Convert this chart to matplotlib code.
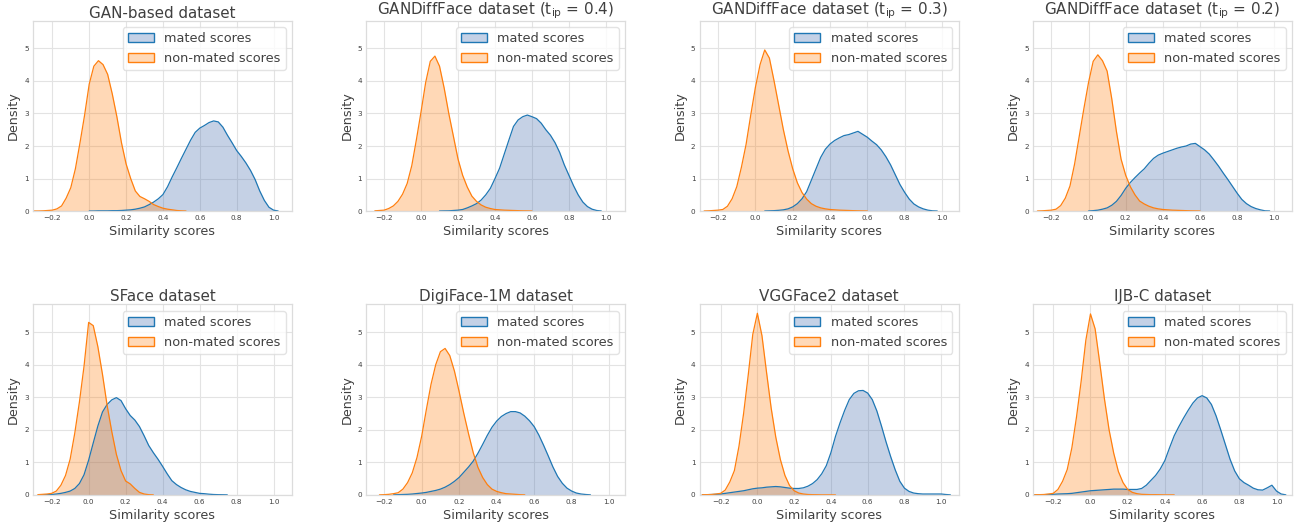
import numpy as np
import matplotlib
matplotlib.use('Agg')
import matplotlib.pyplot as plt
from matplotlib.patches import Patch

# Similarity score grid (x values for every density curve)
scores = [-0.3, -0.275, -0.25, -0.225, -0.2, -0.175, -0.15, -0.125, -0.1, -0.075, -0.05,
          -0.025, 0.0, 0.025, 0.05, 0.075, 0.1, 0.125, 0.15, 0.175, 0.2, 0.225,
          0.25, 0.275, 0.3, 0.325, 0.35, 0.375, 0.4, 0.425, 0.45, 0.475, 0.5,
          0.525, 0.55, 0.575, 0.6, 0.625, 0.65, 0.675, 0.7, 0.725, 0.75, 0.775,
          0.8, 0.825, 0.85, 0.875, 0.9, 0.925, 0.95, 0.975, 1.0, 1.025, 1.05]

titles = ['GAN-based dataset',
          'GANDiffFace dataset (t$_{\\mathrm{ip}}$ = 0.4)',
          'GANDiffFace dataset (t$_{\\mathrm{ip}}$ = 0.3)',
          'GANDiffFace dataset (t$_{\\mathrm{ip}}$ = 0.2)',
          'SFace dataset',
          'DigiFace-1M dataset',
          'VGGFace2 dataset',
          'IJB-C dataset']

# Density values (mated / non-mated), one list per panel
gan_mated = [0, 0, 0, 0, 0, 0, 0, 0, 0, 0, 0,
             0, 0.005, 0.005, 0.01, 0.01, 0.01, 0.015, 0.015, 0.02, 0.03, 0.04,
             0.06, 0.09, 0.13, 0.2, 0.28, 0.38, 0.51, 0.75, 1.05, 1.33, 1.62,
             1.9, 2.18, 2.42, 2.55, 2.63, 2.72, 2.77, 2.74, 2.58, 2.33, 2.1,
             1.86, 1.68, 1.48, 1.25, 0.97, 0.62, 0.33, 0.12, 0.03, 0.005, 0]
gan_nonmated = [0.005, 0.005, 0.01, 0.02, 0.03, 0.07, 0.16, 0.4, 0.72, 1.3, 2.1,
                2.95, 3.9, 4.45, 4.62, 4.5, 4.2, 3.6, 2.9, 2.1, 1.45, 1.0,
                0.62, 0.45, 0.38, 0.3, 0.2, 0.14, 0.09, 0.06, 0.04, 0.02, 0.01,
                0.005, 0, 0, 0, 0, 0, 0, 0, 0, 0, 0,
                0, 0, 0, 0, 0, 0, 0, 0, 0, 0, 0]

gdf04_mated = [0, 0, 0, 0, 0, 0, 0, 0, 0, 0, 0,
               0, 0, 0, 0, 0, 0.005, 0.008, 0.01, 0.02, 0.03, 0.05,
               0.1, 0.16, 0.23, 0.34, 0.5, 0.7, 1.0, 1.32, 1.75, 2.18, 2.6,
               2.8, 2.9, 2.95, 2.9, 2.84, 2.7, 2.5, 2.33, 2.1, 1.8, 1.42,
               1.1, 0.78, 0.5, 0.28, 0.14, 0.06, 0.02, 0.005, 0, 0, 0]
gdf04_nonmated = [0, 0, 0.01, 0.02, 0.03, 0.08, 0.16, 0.3, 0.52, 0.85, 1.4,
                  2.2, 3.05, 3.95, 4.6, 4.76, 4.45, 3.78, 3.0, 2.3, 1.6, 1.1,
                  0.74, 0.46, 0.3, 0.19, 0.12, 0.08, 0.05, 0.04, 0.03, 0.025, 0.02,
                  0.015, 0.01, 0.008, 0.005, 0, 0, 0, 0, 0, 0, 0,
                  0, 0, 0, 0, 0, 0, 0, 0, 0, 0, 0]

gdf03_mated = [0, 0, 0, 0, 0, 0, 0, 0, 0, 0, 0,
               0, 0, 0, 0.005, 0.01, 0.015, 0.025, 0.04, 0.07, 0.13, 0.23,
               0.38, 0.6, 0.95, 1.3, 1.65, 1.9, 2.06, 2.17, 2.25, 2.32, 2.35,
               2.4, 2.45, 2.36, 2.27, 2.15, 2.04, 1.88, 1.67, 1.42, 1.12, 0.82,
               0.58, 0.37, 0.22, 0.13, 0.07, 0.03, 0.01, 0.005, 0, 0, 0]
gdf03_nonmated = [0, 0.005, 0.01, 0.02, 0.03, 0.05, 0.15, 0.38, 0.75, 1.35, 2.05,
                  2.95, 3.8, 4.5, 4.95, 4.7, 4.0, 3.25, 2.5, 1.85, 1.3, 0.87,
                  0.57, 0.37, 0.23, 0.15, 0.1, 0.07, 0.05, 0.04, 0.03, 0.025, 0.02,
                  0.015, 0.01, 0.008, 0.005, 0, 0, 0, 0, 0, 0, 0,
                  0, 0, 0, 0, 0, 0, 0, 0, 0, 0, 0]

gdf02_mated = [0, 0, 0, 0, 0, 0, 0, 0, 0, 0, 0,
               0, 0.005, 0.015, 0.03, 0.06, 0.1, 0.18, 0.3, 0.48, 0.7, 0.88,
               1.03, 1.17, 1.3, 1.47, 1.62, 1.72, 1.78, 1.83, 1.88, 1.93, 1.97,
               2.0, 2.06, 2.08, 1.98, 1.88, 1.75, 1.57, 1.38, 1.17, 0.97, 0.76,
               0.55, 0.36, 0.23, 0.14, 0.08, 0.04, 0.01, 0.005, 0, 0, 0]
gdf02_nonmated = [0, 0.005, 0.01, 0.02, 0.03, 0.06, 0.17, 0.4, 0.77, 1.45, 2.3,
                  3.15, 3.95, 4.6, 4.8, 4.62, 4.3, 3.45, 2.45, 1.6, 1.1, 0.75,
                  0.5, 0.31, 0.22, 0.15, 0.1, 0.07, 0.05, 0.04, 0.03, 0.025, 0.02,
                  0.015, 0.01, 0.008, 0.005, 0, 0, 0, 0, 0, 0, 0,
                  0, 0, 0, 0, 0, 0, 0, 0, 0, 0, 0]

sface_mated = [0, 0, 0.005, 0.01, 0.015, 0.03, 0.05, 0.08, 0.12, 0.2, 0.35,
               0.62, 1.07, 1.6, 2.12, 2.55, 2.78, 2.92, 2.99, 2.9, 2.65, 2.44,
               2.3, 2.1, 1.82, 1.52, 1.3, 1.1, 0.88, 0.65, 0.44, 0.32, 0.23,
               0.16, 0.11, 0.08, 0.05, 0.04, 0.025, 0.015, 0.01, 0.008, 0.005, 0,
               0, 0, 0, 0, 0, 0, 0, 0, 0, 0, 0]
sface_nonmated = [0, 0.01, 0.02, 0.03, 0.05, 0.12, 0.3, 0.6, 1.1, 1.9, 2.85,
                  3.95, 5.3, 5.2, 4.55, 3.7, 2.75, 1.95, 1.25, 0.75, 0.43, 0.34,
                  0.2, 0.08, 0.03, 0.01, 0.005, 0, 0, 0, 0, 0, 0,
                  0, 0, 0, 0, 0, 0, 0, 0, 0, 0, 0,
                  0, 0, 0, 0, 0, 0, 0, 0, 0, 0, 0]

digi_mated = [0, 0, 0, 0, 0, 0, 0.005, 0.01, 0.015, 0.02, 0.03,
              0.045, 0.06, 0.08, 0.11, 0.14, 0.18, 0.24, 0.32, 0.42, 0.54, 0.7,
              0.86, 1.04, 1.28, 1.55, 1.83, 2.08, 2.27, 2.41, 2.5, 2.56, 2.56,
              2.52, 2.42, 2.28, 2.1, 1.84, 1.53, 1.2, 0.86, 0.57, 0.36, 0.21,
              0.12, 0.06, 0.03, 0.015, 0.005, 0, 0, 0, 0, 0, 0]
digi_nonmated = [0, 0, 0, 0.005, 0.01, 0.02, 0.04, 0.07, 0.18, 0.38, 0.68,
                 1.15, 1.8, 2.62, 3.4, 4.0, 4.4, 4.5, 4.28, 3.8, 3.17, 2.5,
                 1.88, 1.3, 0.85, 0.54, 0.32, 0.18, 0.11, 0.07, 0.04, 0.03, 0.02,
                 0.01, 0.005, 0, 0, 0, 0, 0, 0, 0, 0, 0,
                 0, 0, 0, 0, 0, 0, 0, 0, 0, 0, 0]

vgg_mated = [0.005, 0.01, 0.015, 0.02, 0.03, 0.05, 0.07, 0.09, 0.11, 0.13, 0.16,
             0.19, 0.21, 0.22, 0.24, 0.25, 0.26, 0.25, 0.23, 0.21, 0.2, 0.2,
             0.22, 0.27, 0.35, 0.47, 0.65, 0.9, 1.3, 1.8, 2.22, 2.6, 2.93,
             3.12, 3.2, 3.21, 3.13, 2.93, 2.58, 2.12, 1.63, 1.18, 0.77, 0.42,
             0.21, 0.11, 0.06, 0.04, 0.03, 0.03, 0.03, 0.03, 0.03, 0.015, 0.005]
vgg_nonmated = [0.01, 0.01, 0.015, 0.03, 0.05, 0.15, 0.4, 0.75, 1.5, 2.5, 3.67,
                4.93, 5.58, 4.89, 3.76, 2.67, 1.78, 1.09, 0.6, 0.29, 0.13, 0.06,
                0.03, 0.015, 0.01, 0.008, 0.005, 0.005, 0.005, 0.003, 0, 0, 0,
                0, 0, 0, 0, 0, 0, 0, 0, 0, 0, 0,
                0, 0, 0, 0, 0, 0, 0, 0, 0, 0, 0]

ijbc_mated = [0.005, 0.008, 0.01, 0.015, 0.02, 0.03, 0.035, 0.04, 0.05, 0.07, 0.09,
              0.11, 0.13, 0.14, 0.15, 0.16, 0.17, 0.18, 0.18, 0.18, 0.17, 0.17,
              0.17, 0.2, 0.3, 0.45, 0.6, 0.8, 1.06, 1.45, 1.82, 2.1, 2.36,
              2.6, 2.82, 2.98, 3.05, 2.98, 2.78, 2.43, 2.0, 1.55, 1.1, 0.74,
              0.5, 0.38, 0.3, 0.21, 0.16, 0.15, 0.22, 0.3, 0.12, 0.03, 0.005]
ijbc_nonmated = [0.01, 0.01, 0.015, 0.03, 0.05, 0.17, 0.42, 0.78, 1.45, 2.4, 3.5,
                 4.75, 5.56, 5.1, 4.05, 2.95, 2.0, 1.28, 0.72, 0.38, 0.17, 0.08,
                 0.04, 0.02, 0.015, 0.01, 0.01, 0.008, 0.005, 0.005, 0.005, 0, 0,
                 0, 0, 0, 0, 0, 0, 0, 0, 0, 0, 0,
                 0, 0, 0, 0, 0, 0, 0, 0, 0, 0, 0]

mated = [gan_mated, gdf04_mated, gdf03_mated, gdf02_mated,
         sface_mated, digi_mated, vgg_mated, ijbc_mated]
nonmated = [gan_nonmated, gdf04_nonmated, gdf03_nonmated, gdf02_nonmated,
            sface_nonmated, digi_nonmated, vgg_nonmated, ijbc_nonmated]

x_limits = [(-0.305, 1.10), (-0.296, 1.105), (-0.299, 1.09), (-0.299, 1.095),
            (-0.301, 1.10), (-0.295, 1.086), (-0.314, 1.095), (-0.309, 1.083)]

plt.style.use('seaborn-v0_8-whitegrid')
plt.rcParams['font.family'] = ['DejaVu Sans']
text_color = '#404040'

blue_line, blue_fill = '#1f77b4', '#4c72b0'
orange_line, orange_fill = '#ff7f0e', '#ff7f0e'


def draw_kde(ax, y, line, fill, alpha):
    x = np.array(scores)
    y = np.array(y, dtype=float)
    nz = np.nonzero(y)[0]
    sl = slice(nz[0], nz[-1] + 1)
    ax.fill_between(x[sl], y[sl], color=fill, alpha=alpha, linewidth=0)
    ax.plot(x[sl], y[sl], color=line, linewidth=0.9)


fig, axes = plt.subplots(2, 4, figsize=(12.99, 5.29), dpi=100)
fig.subplots_adjust(left=0.0254, right=0.9946, bottom=0.0643, top=0.961,
                    wspace=0.287, hspace=0.49)

for i, ax in enumerate(axes.flat):
    draw_kde(ax, mated[i], blue_line, blue_fill, 0.32)
    draw_kde(ax, nonmated[i], orange_line, orange_fill, 0.3)

    ax.set_xlim(x_limits[i])
    ax.set_ylim(0, 5.85)
    ax.set_xticks([-0.2, 0.0, 0.2, 0.4, 0.6, 0.8, 1.0])
    ax.set_yticks([0, 1, 2, 3, 4, 5])
    ax.tick_params(labelsize=5.2, colors=text_color, pad=3, length=0)
    ax.grid(True, color='#e3e3e3', linewidth=0.8)
    for sp in ax.spines.values():
        sp.set_color('#dcdcdc')
        sp.set_linewidth(0.9)

    ax.set_title(titles[i], fontsize=10.9, color=text_color, pad=0)
    ax.set_xlabel('Similarity scores', fontsize=9.2, color=text_color, labelpad=2.5)
    ax.set_ylabel('Density', fontsize=9.2, color=text_color, labelpad=3)

    handles = [Patch(facecolor=(0.77, 0.82, 0.9), edgecolor=blue_line, linewidth=1.0),
               Patch(facecolor=(1.0, 0.85, 0.72), edgecolor=orange_line, linewidth=1.0)]
    leg = ax.legend(handles, ['mated scores', 'non-mated scores'], loc='upper right',
                    fontsize=9.3, frameon=True, labelcolor=text_color)
    leg.get_frame().set_edgecolor('#dcdcdc')

fig.savefig('out.png', dpi=100)
